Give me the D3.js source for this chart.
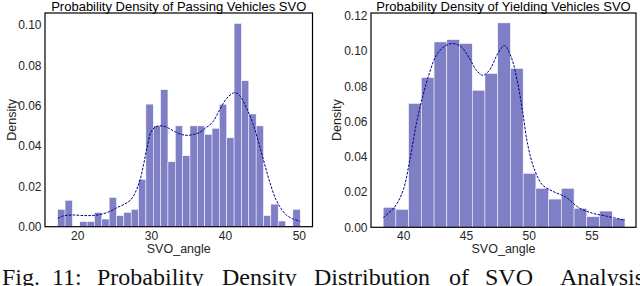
<!DOCTYPE html>
<html>
<head>
<meta charset="utf-8">
<script src="https://cdn.jsdelivr.net/npm/d3@7"></script>
<style>
  body { margin: 0; background: #fff; }
  svg { display: block; }
</style>
</head>
<body>
<div id="chart"></div>
<script>
// passing vehicles: histogram (density per bin) + kde
const passRange = [17.37, 50.19];
const passDensity = [0.0086, 0.0131, 0, 0.0025, 0.0025, 0.0071, 0.0038, 0.0145, 0.0055, 0.0071,
  0.0086, 0.0235, 0.0608, 0.0500, 0.0680, 0.0322, 0.0500, 0.0352, 0.0500, 0.0500,
  0.0458, 0.0488, 0.0607, 0.0441, 0.1008, 0.0724, 0.0559, 0.0500, 0.0055, 0.0112,
  0.0028, 0, 0.0086];
const passKdeX = [17.37, 18.0, 18.8, 19.6, 20.5, 21.5, 22.5, 23.5, 24.5, 25.3, 26.3, 27.3, 28.0, 28.5,
  29.0, 29.5, 30.0, 30.6, 31.5, 32.3, 33.2, 34.2, 35.0, 35.8, 36.6, 37.4, 38.3, 39.3, 40.2,
  41.3, 42.0, 42.9, 43.8, 44.7, 45.6, 46.25, 46.9, 47.6, 48.3, 49.1, 50.19];
const passKdeY = [0.0041, 0.0052, 0.0057, 0.0058, 0.0056, 0.0055, 0.0057, 0.0064, 0.0077, 0.0093,
  0.0110, 0.0135, 0.018, 0.023, 0.031, 0.040, 0.047, 0.0495, 0.0500, 0.0490, 0.0472, 0.0457,
  0.0453, 0.0458, 0.0468, 0.049, 0.0517, 0.058, 0.0635, 0.0665, 0.065, 0.059, 0.051, 0.040,
  0.028, 0.020, 0.0135, 0.009, 0.0058, 0.0040, 0.0027];
const passTicksX = [20, 30, 40, 50];
const passTicksY = [0, 0.02, 0.04, 0.06, 0.08, 0.10];

// yielding vehicles
const yieldRange = [38.41, 57.67];
const yieldDensity = [0.0113, 0.0102, 0.0702, 0.0849, 0.1051, 0.1064, 0.1042, 0.0777, 0.0872, 0.1159,
  0.0901, 0.0306, 0.0221, 0.0160, 0.0221, 0.0108, 0.0060, 0.0092, 0.0049];
const yieldKdeX = [38.41, 39.34, 40.0, 40.53, 41.06, 41.59, 42.12, 42.65, 43.31, 43.97, 44.63, 45.29,
  45.83, 46.35, 46.88, 47.54, 48.07, 48.6, 49.13, 49.5, 49.92, 50.45, 51.1, 51.9, 52.97, 54.02,
  55.08, 56.14, 57.67];
const yieldKdeY = [0.0055, 0.0117, 0.021, 0.038, 0.059, 0.075, 0.088, 0.0976, 0.1027, 0.1042, 0.1023,
  0.0957, 0.0891, 0.0862, 0.0891, 0.0985, 0.1030, 0.0967, 0.0816, 0.0665, 0.047, 0.033, 0.024,
  0.0205, 0.017, 0.011, 0.0080, 0.0064, 0.0040];
const yieldTicksX = [40, 45, 50, 55];
const yieldTicksY = [0, 0.02, 0.04, 0.06, 0.08, 0.10, 0.12];

const titles = ["Probability Density of Passing Vehicles SVO", "Probability Density of Yielding Vehicles SVO"];
const xLabel = "SVO_angle";
const yLabel = "Density";
const captionWords = ["Fig.", "11:", "Probability", "Density", "Distribution", "of", "SVO", "Analysis"];

const barColor = "#7f7fc5";
const kdeColor = "#00008b";

const svg = d3.select("#chart").append("svg")
  .attr("width", 640)
  .attr("height", 286)
  .style("font-family", "'Liberation Sans', Arial, sans-serif");

function drawPanel(p, title, range, density, kdeX, kdeY, ticksX, ticksY) {
  const x = d3.scaleLinear().domain(p.xDomain).range([p.left, p.right]);
  const y = d3.scaleLinear().domain(p.yDomain).range([p.bottom, p.top]);
  const g = svg.append("g");

  // histogram bins, equal width between first and last edge
  const w = (range[1] - range[0]) / density.length;
  const bins = density.map((d, i) => ({x0: range[0] + i * w, x1: range[0] + (i + 1) * w, v: d}));

  g.selectAll("rect.bar")
    .data(bins)
    .join("rect")
      .attr("class", "bar")
      .attr("x", d => x(d.x0))
      .attr("y", d => y(d.v))
      .attr("width", d => x(d.x1) - x(d.x0))
      .attr("height", d => y(0) - y(d.v))
      .attr("fill", barColor)
      .attr("stroke", "#fff")
      .attr("stroke-width", 0.5);

  const line = d3.line()
    .x(d => x(d[0]))
    .y(d => y(d[1]))
    .curve(d3.curveCatmullRom);

  g.append("path")
    .datum(d3.zip(kdeX, kdeY))
    .attr("d", line)
    .attr("fill", "none")
    .attr("stroke", kdeColor)
    .attr("stroke-width", 1)
    .attr("stroke-dasharray", "2.6,1.3");

  // axes, no tick marks
  const yAxis = g.append("g")
    .attr("transform", `translate(${p.left},0)`)
    .call(d3.axisLeft(y).tickValues(ticksY).tickSize(0).tickPadding(3.5).tickFormat(d3.format(".2f")));
  const xAxis = g.append("g")
    .attr("transform", `translate(0,${p.bottom})`)
    .call(d3.axisBottom(x).tickValues(ticksX).tickSize(0).tickPadding(4.5));
  [xAxis, yAxis].forEach(a => {
    a.select(".domain").remove();
    a.selectAll("text").style("font-size", "12px").attr("fill", "#262626")
      .style("font-family", "'Liberation Sans', Arial, sans-serif");
  });

  g.append("rect")
    .attr("x", p.left)
    .attr("y", p.top)
    .attr("width", p.right - p.left)
    .attr("height", p.bottom - p.top)
    .attr("fill", "none")
    .attr("stroke", "#000")
    .attr("stroke-width", 1.2);

  g.append("text")
    .attr("x", (p.left + p.right) / 2)
    .attr("y", 10.5)
    .attr("text-anchor", "middle")
    .style("font-size", "13px")
    .text(title);

  g.append("text")
    .attr("x", (p.left + p.right) / 2)
    .attr("y", 253)
    .attr("text-anchor", "middle")
    .style("font-size", "12.5px")
    .attr("fill", "#262626")
    .text(xLabel);

  g.append("text")
    .attr("transform", `translate(${p.yLabelX},${(p.top + p.bottom) / 2}) rotate(-90)`)
    .attr("text-anchor", "middle")
    .style("font-size", "12.5px")
    .attr("fill", "#262626")
    .text(yLabel);
}

drawPanel({left: 45, right: 312.5, top: 13, bottom: 226.7, xDomain: [15.65, 51.85], yDomain: [0, 0.106], yLabelX: 16},
  titles[0], passRange, passDensity, passKdeX, passKdeY, passTicksX, passTicksY);
drawPanel({left: 371, right: 636, top: 13, bottom: 227.3, xDomain: [37.44, 58.55], yDomain: [0, 0.1215], yLabelX: 341},
  titles[1], yieldRange, yieldDensity, yieldKdeX, yieldKdeY, yieldTicksX, yieldTicksY);

// caption, cut off at the bottom edge like the source crop
const wordX = [2, 52, 97, 222, 314, 449, 485, 560];
svg.append("text")
  .attr("y", 285)
  .style("font-family", "'Liberation Serif', 'Times New Roman', serif")
  .style("font-size", "24px")
  .attr("fill", "#111")
  .selectAll("tspan")
  .data(captionWords)
  .join("tspan")
    .attr("x", (d, i) => wordX[i])
    .text(d => d);
</script>
</body>
</html>
